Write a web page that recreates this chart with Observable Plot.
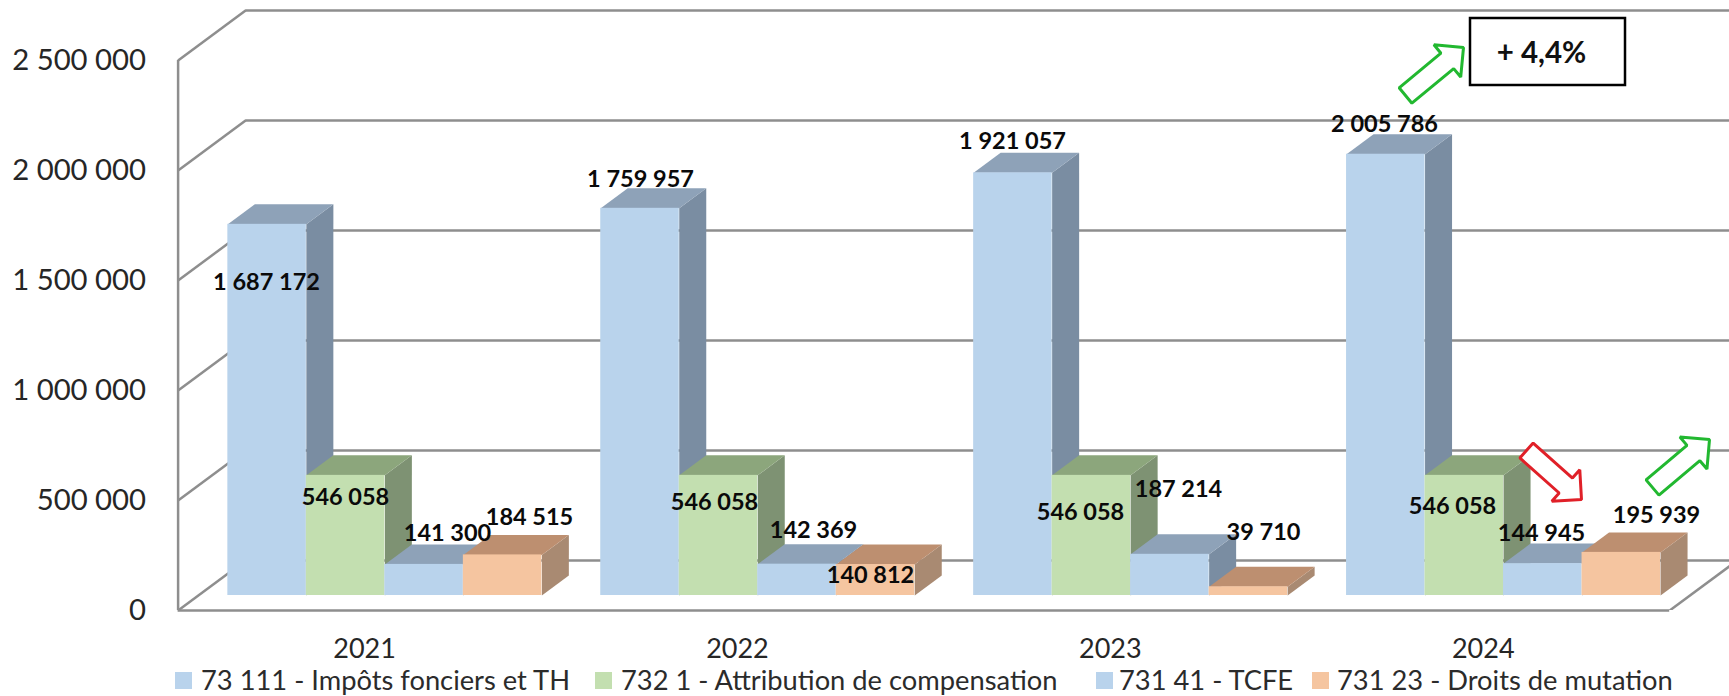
<!DOCTYPE html>
<html><head><meta charset="utf-8">
<script src="https://cdn.jsdelivr.net/npm/d3@7"></script>
<script src="https://cdn.jsdelivr.net/npm/@observablehq/plot@0.6"></script>
<style>
html,body{margin:0;padding:0;background:#fff;overflow:hidden}
#legend{position:relative;height:32px;font-family:Lato,sans-serif;font-size:27.3px;color:#2b2b2b;white-space:nowrap}
#legend .sw{position:absolute;top:8px;width:17px;height:17px}
#legend .tx{position:absolute;top:0;line-height:32px}
</style></head><body>
<div id="chart"></div><div id="legend"></div>
<script>
const years = ["2021","2022","2023","2024"];
const seriesNames = ["73 111 - Impôts fonciers et TH","732 1 - Attribution de compensation","731 41 - TCFE","731 23 - Droits de mutation"];
const impots = [1687172,1759957,1921057,2005786];
const attribution = [546058,546058,546058,546058];
const tcfe = [141300,142369,187214,144945];
const droits = [184515,140812,39710,195939];
const frontColors = ["#b9d3ec","#c3dfb0","#b9d3ec","#f5c5a0"];
const topColors = ["#8ea2b8","#8ca67c","#8ea2b8","#bd8f70"];
const sideColors = ["#7a8da2","#7e9273","#7a8da2","#a98a72"];
const yTicks = [0,500000,1000000,1500000,2000000,2500000];
const legendX = [175,595,1096,1312];
const legendTextX = [201,621,1119,1337];

// hand-placed label centres, as in the reference, in pixels
const labelPixels = [
 [[266,282],[345,497],[447,533],[529,517]],
 [[640,179],[714,502],[813,530],[870,575]],
 [[1012,141],[1080,512],[1178,489],[1263,532]],
 [[1384,124],[1452,506],[1541,533],[1656,515]]
];

const W = 1729, H = 664;
const X0 = 177.6, PXU = 372.9, Y0 = 610, VPP = 500000/110;
const xMax = (W-X0)/PXU, yMax = (Y0-10)*VPP;
const DX = 67.5/PXU, DY = 50*VPP;
const xd = px => (px-X0)/PXU, yd = py => (Y0-py)*VPP;
const barW = 78.5/PXU, gap = 29.5/PXU;
const dF = 0.3, dB = 0.7;
const series = [impots,attribution,tcfe,droits];

const pt = (u,v,d) => ({x:u+d*DX, y:v+d*DY});
const grid = {stroke:"#8e8e8e", strokeWidth:2.5};
const marks = [
  Plot.ruleY(yTicks,{y:v=>v+DY,x1:DX,x2:xMax,...grid}),
  Plot.link(yTicks,{x1:0,y1:v=>v,x2:DX,y2:v=>v+DY,...grid}),
  Plot.ruleX([0],{y1:0,y2:2500000,...grid}),
  Plot.ruleY([0],{x1:0,x2:4,...grid}),
  Plot.link([0],{x1:4,y1:0,x2:4+DX,y2:DY,clip:true,...grid}),
];
years.forEach((yr,g)=>{
  series.forEach((vals,s)=>{
    const u0 = g+gap+s*barW, u1 = u0+barW, v = vals[g];
    const side = [pt(u1,0,dF),pt(u1,0,dB),pt(u1,v,dB),pt(u1,v,dF)];
    const top = [pt(u0,v,dF),pt(u1,v,dF),pt(u1,v,dB),pt(u0,v,dB)];
    const face = {stroke:"none",curve:"linear-closed",x:"x",y:"y"};
    marks.push(
      Plot.line(side,{...face,fill:sideColors[s]}),
      Plot.line(top,{...face,fill:topColors[s]}),
      Plot.rect([v],{x1:u0+dF*DX,x2:u1+dF*DX,y1:dF*DY,y2:d=>d+dF*DY,fill:frontColors[s],inset:0})
    );
  });
});
const labels = years.flatMap((yr,g)=>series.map((vals,s)=>({v:vals[g],px:labelPixels[g][s]})));
const fmt = n => d3.format(",")(n).replace(/,/g," ");
marks.push(Plot.text(labels,{x:d=>xd(d.px[0]),y:d=>yd(d.px[1]),text:d=>fmt(d.v),fontSize:23.5,fontWeight:700,fill:"#0a0a0a",stroke:"none"}));

function arrow(tail,tip,shaft,head,len){
  const dx=tip[0]-tail[0],dy=tip[1]-tail[1],L=Math.hypot(dx,dy),ux=dx/L,uy=dy/L,nx=-uy,ny=ux;
  const bx=tip[0]-ux*len,by=tip[1]-uy*len;
  return [[tail[0]+nx*shaft,tail[1]+ny*shaft],[bx+nx*shaft,by+ny*shaft],[bx+nx*head,by+ny*head],tip,
          [bx-nx*head,by-ny*head],[bx-nx*shaft,by-ny*shaft],[tail[0]-nx*shaft,tail[1]-ny*shaft]];
}
const arrows = [
  {tail:[1405,95],tip:[1463,47],color:"#22b830"},
  {tail:[1652,487],tip:[1709,439],color:"#22b830"},
  {tail:[1526,450],tip:[1581,499],color:"#e02028"}
];
arrows.forEach(a=>marks.push(Plot.line(arrow(a.tail,a.tip,10,21,21),{
  x:d=>xd(d[0]),y:d=>yd(d[1]),curve:"linear-closed",fill:"#fff",stroke:a.color,strokeWidth:3,strokeLinejoin:"miter"})));
marks.push(
  Plot.rect([0],{x1:xd(1470),x2:xd(1625),y1:yd(85),y2:yd(18),fill:"#fff",stroke:"#000",strokeWidth:2.5}),
  Plot.text(["+ 4,4%"],{x:xd(1541),y:yd(53),text:d=>d,fontSize:29.5,fontWeight:700,fill:"#111"})
);
marks.push(
  Plot.axisY({ticks:yTicks,tickSize:0,tickPadding:32,label:null,tickFormat:fmt,fontSize:29.3,fontVariant:"normal",fill:"#262626"}),
  Plot.axisX({ticks:years.map((_,i)=>i+0.5),tickSize:0,tickPadding:28,label:null,tickFormat:u=>years[Math.floor(u)],fontSize:27,fontVariant:"normal",fill:"#262626"})
);
const chart = Plot.plot({
  width:W,height:H,marginLeft:X0,marginRight:0,marginTop:10,marginBottom:H-Y0,
  style:{fontFamily:"Lato,sans-serif",background:"#fff",overflow:"visible"},
  x:{domain:[0,xMax]},y:{domain:[0,yMax]},
  marks
});
document.getElementById("chart").appendChild(chart);
const leg = document.getElementById("legend");
seriesNames.forEach((n,i)=>{
  const sw=document.createElement("div");sw.className="sw";sw.style.left=legendX[i]+"px";sw.style.background=frontColors[i];leg.appendChild(sw);
  const t=document.createElement("div");t.className="tx";t.style.left=legendTextX[i]+"px";t.textContent=n;leg.appendChild(t);
});
</script></body></html>
